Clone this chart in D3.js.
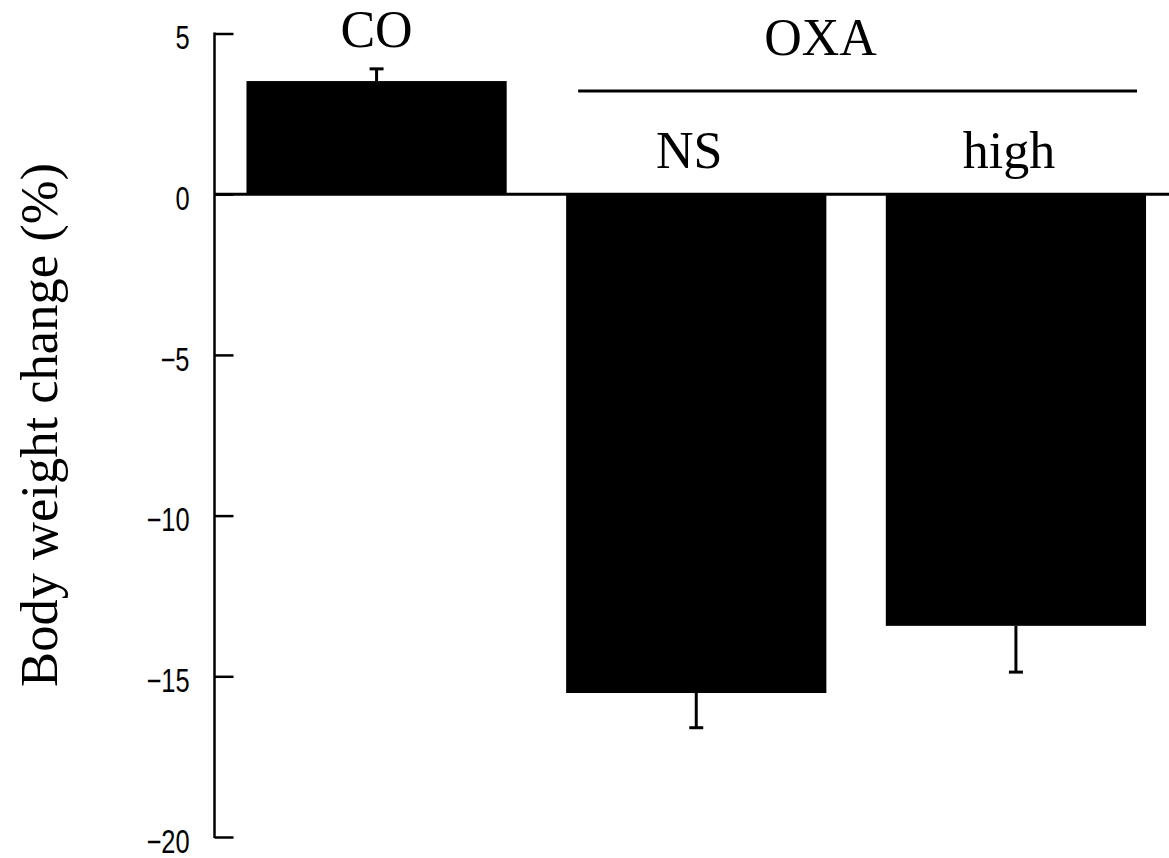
<!DOCTYPE html>
<html>
<head>
<meta charset="utf-8">
<script src="https://cdn.jsdelivr.net/npm/d3@7"></script>
<style>
  body { margin: 0; background: #fff; }
  svg { display: block; }
</style>
</head>
<body>
<div id="chart"></div>
<script>
// groups and values
const categories = ['CO', 'NS', 'high']
const means = [3.52, -15.52, -13.43]
const errors = [0.38, 1.08, 1.44]
const yTicks = [5, 0, -5, -10, -15, -20]
const groupLabel = 'OXA'
const groupMembers = ['NS', 'high']
const yLabel = 'Body weight change (%)'

const W = 1169, H = 858
const serif = '"Liberation Serif", "Times New Roman", Times, serif'

const svg = d3.select('#chart')
    .append('svg')
    .attr('width', W)
    .attr('height', H)

const axisX = 214.5

const x = d3.scaleBand()
    .domain(categories)
    .range([axisX, 1178])
    .paddingInner(0.186)
    .paddingOuter(0.1)

const y = d3.scaleLinear()
    .domain([-20, 5])
    .range([837, 33.5])

// zero line
svg.append('line')
    .attr('x1', axisX).attr('x2', W)
    .attr('y1', y(0)).attr('y2', y(0))
    .attr('stroke', '#000')
    .attr('stroke-width', 3)

// bars
svg.selectAll('.bar')
    .data(categories).enter()
    .append('rect')
    .attr('class', 'bar')
    .attr('x', d => x(d))
    .attr('width', x.bandwidth())
    .attr('y', (d, i) => y(Math.max(0, means[i])))
    .attr('height', (d, i) => Math.abs(y(means[i]) - y(0)))
    .attr('fill', '#000')

// error bars (one-sided, outward)
const tipY = i => y(means[i] + Math.sign(means[i]) * errors[i])
const cx = d => x(d) + x.bandwidth() / 2

const err = svg.selectAll('.err')
    .data(categories).enter()
    .append('g')
    .attr('class', 'err')
    .attr('stroke', '#000')
    .attr('stroke-width', 3)

err.append('line')
    .attr('x1', cx).attr('x2', cx)
    .attr('y1', (d, i) => y(means[i]))
    .attr('y2', (d, i) => tipY(i))

err.append('line')
    .attr('x1', d => cx(d) - 7)
    .attr('x2', d => cx(d) + 7)
    .attr('y1', (d, i) => tipY(i))
    .attr('y2', (d, i) => tipY(i))

// y axis
const yAxis = svg.append('g')
    .attr('transform', `translate(${axisX}, 0)`)
    .call(d3.axisLeft(y)
        .tickValues(yTicks)
        .tickSizeInner(-19)
        .tickSizeOuter(0)
        .tickPadding(25)
        .tickFormat(d => d < 0 ? '\u2212' + Math.abs(d) : d)
    )

yAxis.select('.domain')
    .attr('stroke', '#000')
    .attr('stroke-width', 2.5)
    .attr('d', `M0,${y(5) - 1}V${y(-20) + 1}`)

yAxis.selectAll('.tick line')
    .attr('stroke', '#000')
    .attr('stroke-width', 2.5)

// narrow gothic-like tick labels: squeeze Liberation Sans horizontally
const sx = 0.77
yAxis.selectAll('.tick text')
    .attr('fill', '#000')
    .attr('font-family', '"Liberation Sans", Arial, sans-serif')
    .attr('font-size', 33)
    .attr('x', -25 / sx)
    .attr('dy', '0.46em')
    .attr('transform', `scale(${sx}, 1)`)

// y label, fitted to the reference's length
const yl = svg.append('text')
    .attr('transform', `translate(57, 425) rotate(-90)`)
    .attr('text-anchor', 'middle')
    .attr('font-family', serif)
    .attr('font-size', 52)
    .text(yLabel)
const ylLen = yl.node().getComputedTextLength()
yl.attr('font-size', 52 * 524 / ylLen)

// category labels
svg.append('text')
    .attr('x', cx('CO'))
    .attr('y', 47)
    .attr('text-anchor', 'middle')
    .attr('font-family', serif)
    .attr('font-size', 52)
    .text('CO')

svg.selectAll('.sub')
    .data(groupMembers).enter()
    .append('text')
    .attr('class', 'sub')
    .attr('x', d => cx(d) - 7)
    .attr('y', 168)
    .attr('text-anchor', 'middle')
    .attr('font-family', serif)
    .attr('font-size', 52)
    .text(d => d)

// OXA bracket line and label
const gx0 = x(groupMembers[0]) + 12
const gx1 = x(groupMembers[groupMembers.length - 1]) + x.bandwidth() - 9
svg.append('line')
    .attr('x1', gx0).attr('x2', gx1)
    .attr('y1', 91).attr('y2', 91)
    .attr('stroke', '#000')
    .attr('stroke-width', 3)

svg.append('text')
    .attr('x', (gx0 + gx1) / 2 - 37)
    .attr('y', 55)
    .attr('text-anchor', 'middle')
    .attr('font-family', serif)
    .attr('font-size', 52)
    .text(groupLabel)
</script>
</body>
</html>
